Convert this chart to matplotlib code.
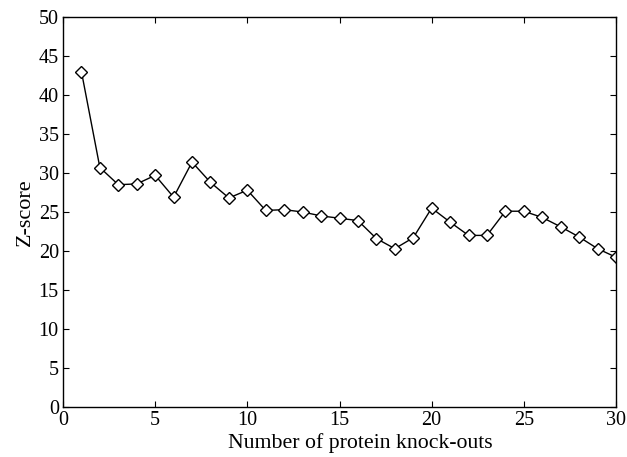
import numpy as np
import matplotlib.pyplot as plt

plt.rcParams['font.family'] = ['Liberation Serif', 'DejaVu Serif']

# Z-score per number of knock-outs
knockouts = np.arange(1, 31)
z_scores = [43.0, 30.7, 28.5, 28.6, 29.7, 26.9, 31.4, 28.8, 26.8, 27.8,
            25.2, 25.3, 25.0, 24.5, 24.2, 23.9, 21.6, 20.3, 21.7, 25.5,
            23.7, 22.0, 22.0, 25.1, 25.1, 24.3, 23.1, 21.8, 20.3, 19.2]

fig = plt.figure(figsize=(6.27, 4.57), dpi=100)
ax = fig.add_axes([63 / 627, 1 - 407 / 457, 553 / 627, 390 / 457])

ax.plot(knockouts, z_scores, color='black', linewidth=1.0,
        marker='D', markersize=6.6, markerfacecolor='white',
        markeredgecolor='black', markeredgewidth=1.0)

ax.set_xlim(0, 30)
ax.set_ylim(0, 50)
ax.set_xticks(np.arange(0, 31, 5))
ax.set_yticks(np.arange(0, 51, 5))
ax.tick_params(direction='in', top=True, right=True, labelsize=14.5,
               length=4, pad=3)
for s in ax.spines.values():
    s.set_linewidth(1.0)

ax.set_xlabel('Number of protein knock-outs', fontsize=15.7)
ax.xaxis.set_label_coords(0.537, -0.068)
ax.set_ylabel('Z-score', fontsize=16, labelpad=3)

fig.savefig('out.png', dpi=100)
